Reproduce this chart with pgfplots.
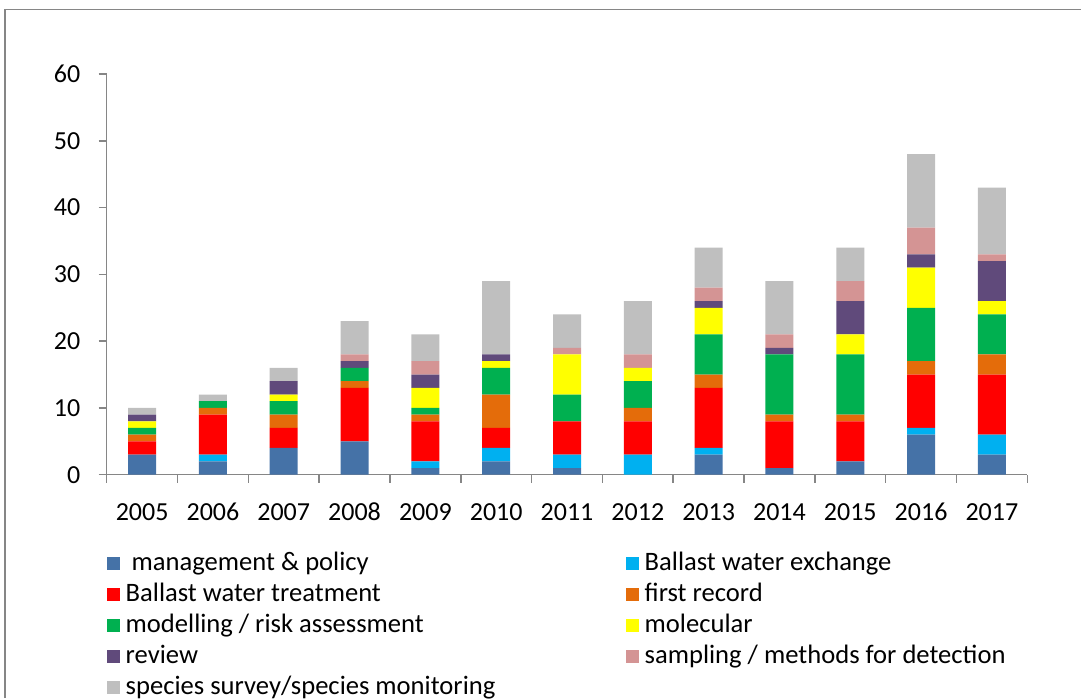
\documentclass[border=0pt]{standalone}
\usepackage{pgfplots}
\usepackage{pgfplotstable}
\pgfplotsset{compat=1.18}
\usepackage{fontspec}
\setmainfont{Carlito}
\definecolor{cMgmt}{HTML}{4572A7}
\definecolor{cBWE}{HTML}{00B0F0}
\definecolor{cBWT}{HTML}{FF0000}
\definecolor{cFirst}{HTML}{E46C0A}
\definecolor{cModel}{HTML}{00B050}
\definecolor{cMol}{HTML}{FFFF00}
\definecolor{cRev}{HTML}{604A7B}
\definecolor{cSamp}{HTML}{D49494}
\definecolor{cSurv}{HTML}{BFBFBF}
\definecolor{axgray}{HTML}{868686}
\pgfplotstableread{
x mgmt bwe bwt first model mol rev samp surv
0  3 0 2 1 1 1 1 0 1
1  2 1 6 1 1 0 0 0 1
2  4 0 3 2 2 1 2 0 2
3  5 0 8 1 2 0 1 1 5
4  1 1 6 1 1 3 2 2 4
5  2 2 3 5 4 1 1 0 11
6  1 2 5 0 4 6 0 1 5
7  0 3 5 2 4 2 0 2 8
8  3 1 9 2 6 4 1 2 6
9  1 0 7 1 9 0 1 2 8
10 2 0 6 1 9 3 5 3 5
11 6 1 8 2 8 6 2 4 11
12 3 3 9 3 6 2 6 1 10
}\datatable
\begin{document}
\begin{tikzpicture}
\path[use as bounding box] (0,0) rectangle (540.5pt,349pt);
\draw[axgray, line width=0.75pt] (2.5pt,0) -- (2.5pt,344.25pt) -- (540.5pt,344.25pt);
\begin{axis}[
  at={(53.35pt,111.65pt)}, anchor=south west,
  scale only axis, width=460.3pt, height=200.35pt,
  ybar stacked, bar width=14pt,
  xmin=-0.5, xmax=12.5, ymin=0, ymax=60,
  axis lines*=left,
  axis line style={axgray, line width=0.75pt},
  every tick/.style={axgray, line width=0.75pt},
  tick align=outside, major tick length=4pt,
  xtick={-0.5,0.5,...,12.5},
  x tick label as interval,
  xticklabels={2005,2006,2007,2008,2009,2010,2011,2012,2013,2014,2015,2016,2017},
  ytick={0,10,...,60},
  /pgf/number format/assume math mode=true,
  tick label style={font=\fontsize{13}{15}\selectfont, black},
  yticklabel style={inner sep=0pt, xshift=-9pt},
  xticklabel style={inner sep=0pt, anchor=north, text height=9pt, text depth=0pt, yshift=-9.5pt},
  legend columns=2,
  legend cell align=left,
  legend style={draw=none, fill=none, inner sep=0pt, outer sep=0pt,
    at={(axis description cs:0,-0.193)}, anchor=north west,
    font=\fontsize{13.3}{15}\selectfont,
    nodes={inner sep=0pt, text height=9pt, text depth=2.5pt},
    row sep=4pt,
    /tikz/every odd column/.style={column sep=3pt},
    /tikz/every even column/.style={column sep=0pt}},
  legend image code/.code={\fill[#1] (0pt,-3.25pt) rectangle (6.5pt,3.25pt);},
]
\addplot[fill=cMgmt, draw=none] table[x=x,y=mgmt] {\datatable};
\addplot[fill=cBWE, draw=none] table[x=x,y=bwe] {\datatable};
\addplot[fill=cBWT, draw=none] table[x=x,y=bwt] {\datatable};
\addplot[fill=cFirst, draw=none] table[x=x,y=first] {\datatable};
\addplot[fill=cModel, draw=none] table[x=x,y=model] {\datatable};
\addplot[fill=cMol, draw=none] table[x=x,y=mol] {\datatable};
\addplot[fill=cRev, draw=none] table[x=x,y=rev] {\datatable};
\addplot[fill=cSamp, draw=none] table[x=x,y=samp] {\datatable};
\addplot[fill=cSurv, draw=none] table[x=x,y=surv] {\datatable};
\legend{\makebox[250pt][l]{\ management \& policy},
  \makebox[250pt][l]{Ballast water exchange},
  \makebox[250pt][l]{Ballast water treatment},
  \makebox[250pt][l]{first record},
  \makebox[250pt][l]{modelling / risk assessment},
  \makebox[250pt][l]{molecular},
  \makebox[250pt][l]{review},
  \makebox[250pt][l]{sampling / methods for detection},
  \makebox[250pt][l]{species survey/species monitoring}}
\end{axis}
\end{tikzpicture}
\end{document}
